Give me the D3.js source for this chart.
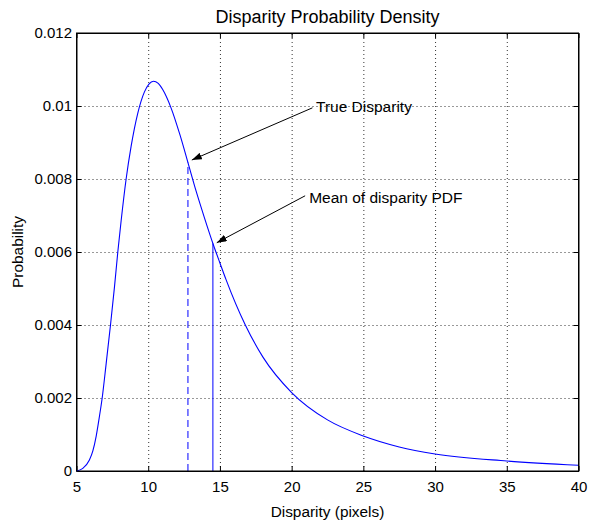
<!DOCTYPE html>
<html>
<head>
<meta charset="utf-8">
<script src="https://cdn.jsdelivr.net/npm/d3@7"></script>
<style>
	body { margin: 0; background: #fff; }
	svg { display: block; font-family: 'Liberation Sans', Arial, Helvetica, sans-serif; }
	.grid line { stroke: #333; stroke-dasharray: 1,3; }
	.grid path { display: none; }
	.axis path, .axis line { stroke: #000; }
	.axis text { font-size: 15px; fill: #000; }
</style>
</head>
<body>
<script>
// values
const disparity = [5, 5.44, 5.9, 6.14, 6.37, 6.58, 6.79, 7.07, 7.37, 7.65, 7.88, 8.11, 8.46, 8.81, 9.27, 9.73, 10.05, 10.36, 10.7, 11.01, 11.59, 12.22, 12.82, 13.33, 13.91, 14.54, 15, 15.42, 16.77, 18, 20, 22.5, 25, 27.5, 30, 35, 40]
const probability = [0, 0.00007, 0.0003, 0.00055, 0.00095, 0.00145, 0.002, 0.00295, 0.004, 0.00505, 0.006, 0.00685, 0.008, 0.0089, 0.0098, 0.01038, 0.0106, 0.01068, 0.01062, 0.01045, 0.00995, 0.0092, 0.00838, 0.00768, 0.00695, 0.0062, 0.0057, 0.00525, 0.004, 0.00312, 0.00215, 0.0014, 0.00096, 0.00066, 0.000466, 0.000274, 0.000156]

const xTicks = [5, 10, 15, 20, 25, 30, 35, 40]
const yTicks = [0, 0.002, 0.004, 0.006, 0.008, 0.01, 0.012]
const yTickLabels = ['0', '0.002', '0.004', '0.006', '0.008', '0.01', '0.012']

const trueDisparity = 12.77
const meanDisparity = 14.51

const annotationLabels = ['True Disparity', 'Mean of disparity PDF']
const annotationTips = [[13.04, 0.00852], [14.78, 0.006255]]
const annotationTails = [[21.45, 0.00995], [20.94, 0.00754]]
const annotationText = [[21.7, 0.00984], [21.22, 0.00734]]

const width = 589
const height = 525
const margin = { top: 33, right: 10.5, bottom: 54, left: 76.5 }
const innerWidth = width - margin.left - margin.right
const innerHeight = height - margin.top - margin.bottom

const xScale = d3.scaleLinear()
	.domain([5, 40])
	.range([0, innerWidth])

const yScale = d3.scaleLinear()
	.domain([0, 0.012])
	.range([innerHeight, 0])

const svg = d3.select('body')
	.append('svg')
	.attr('width', width)
	.attr('height', height)

svg.append('defs')
	.append('marker')
	.attr('id', 'arrow')
	.attr('markerUnits', 'userSpaceOnUse')
	.attr('viewBox', '0 0 10 7')
	.attr('refX', 10)
	.attr('refY', 3.5)
	.attr('markerWidth', 10)
	.attr('markerHeight', 7)
	.attr('orient', 'auto')
	.append('path')
	.attr('d', 'M0,0L10,3.5L0,7Z')
	.attr('fill', '#000')

const g = svg.append('g')
	.attr('transform', `translate(${margin.left},${margin.top})`)

// grid
g.append('g')
	.attr('class', 'grid')
	.attr('transform', `translate(0,${innerHeight})`)
	.call(d3.axisBottom(xScale).tickValues(xTicks.slice(1, -1)).tickSize(-innerHeight))
	.selectAll('text').remove()

g.append('g')
	.attr('class', 'grid')
	.call(d3.axisLeft(yScale).tickValues(yTicks.slice(1, -1)).tickSize(-innerWidth))
	.selectAll('text').remove()

// axes, ticks pointing inward on all sides
g.append('g')
	.attr('class', 'axis')
	.attr('transform', `translate(0,${innerHeight})`)
	.call(d3.axisBottom(xScale).tickValues(xTicks).tickSizeInner(-5).tickSizeOuter(0).tickPadding(10))

g.append('g')
	.attr('class', 'axis')
	.call(d3.axisTop(xScale).tickValues(xTicks).tickSizeInner(-5).tickSizeOuter(0))
	.selectAll('text').remove()

g.append('g')
	.attr('class', 'axis')
	.call(d3.axisLeft(yScale).tickValues(yTicks).tickSizeInner(-5).tickSizeOuter(0).tickPadding(4.5)
		.tickFormat((d, i) => yTickLabels[i]))

g.append('g')
	.attr('class', 'axis')
	.attr('transform', `translate(${innerWidth},0)`)
	.call(d3.axisRight(yScale).tickValues(yTicks).tickSizeInner(-5).tickSizeOuter(0))
	.selectAll('text').remove()

// curve
const points = disparity.map((d, i) => [d, probability[i]])

const line = d3.line()
	.x(d => xScale(d[0]))
	.y(d => yScale(d[1]))
	.curve(d3.curveMonotoneX)

g.append('path')
	.datum(points)
	.attr('d', line)
	.attr('fill', 'none')
	.attr('stroke', '#0000ff')
	.attr('stroke-width', 1.1)

// value of the curve at a given disparity, from the same points
const curveAt = x => {
	const i = d3.bisectRight(disparity, x)
	const t = (x - disparity[i - 1]) / (disparity[i] - disparity[i - 1])
	return probability[i - 1] + t * (probability[i] - probability[i - 1])
}

g.append('line')
	.attr('x1', xScale(trueDisparity))
	.attr('x2', xScale(trueDisparity))
	.attr('y1', yScale(0))
	.attr('y2', yScale(curveAt(trueDisparity)))
	.attr('stroke', '#0000ff')
	.attr('stroke-dasharray', '7,4')

g.append('line')
	.attr('x1', xScale(meanDisparity))
	.attr('x2', xScale(meanDisparity))
	.attr('y1', yScale(0))
	.attr('y2', yScale(curveAt(meanDisparity)))
	.attr('stroke', '#0000ff')

// annotations
annotationLabels.forEach((label, i) => {
	g.append('line')
		.attr('x1', xScale(annotationTails[i][0]))
		.attr('y1', yScale(annotationTails[i][1]))
		.attr('x2', xScale(annotationTips[i][0]))
		.attr('y2', yScale(annotationTips[i][1]))
		.attr('stroke', '#000')
		.attr('marker-end', 'url(#arrow)')

	g.append('text')
		.attr('x', xScale(annotationText[i][0]))
		.attr('y', yScale(annotationText[i][1]))
		.attr('font-size', '15.5px')
		.text(label)
})

// box
g.append('rect')
	.attr('width', innerWidth)
	.attr('height', innerHeight)
	.attr('fill', 'none')
	.attr('stroke', '#000')

// titles
svg.append('text')
	.attr('x', margin.left + innerWidth / 2)
	.attr('y', 23)
	.attr('text-anchor', 'middle')
	.attr('font-size', '18px')
	.text('Disparity Probability Density')

svg.append('text')
	.attr('x', margin.left + innerWidth / 2)
	.attr('y', 517)
	.attr('text-anchor', 'middle')
	.attr('font-size', '15.4px')
	.text('Disparity (pixels)')

svg.append('text')
	.attr('transform', 'translate(23.3,252) rotate(-90)')
	.attr('text-anchor', 'middle')
	.attr('font-size', '15.4px')
	.text('Probability')
</script>
</body>
</html>
